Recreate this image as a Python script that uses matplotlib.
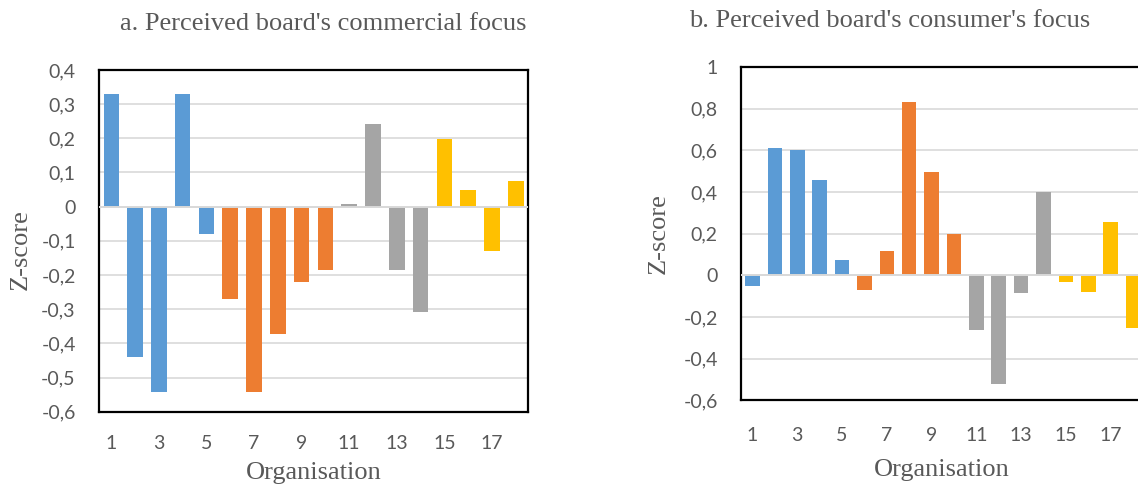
import numpy as np
import matplotlib.pyplot as plt

# Z-scores per organisation (1..18)
orgs = np.arange(1, 19)
commercial = [0.33, -0.439, -0.543, 0.329, -0.081, -0.27, -0.541, -0.373, -0.22,
              -0.184, 0.007, 0.243, -0.185, -0.308, 0.197, 0.048, -0.13, 0.075]
consumer = [-0.05, 0.613, 0.603, 0.459, 0.072, -0.069, 0.117, 0.83, 0.494,
            0.2, -0.261, -0.523, -0.083, 0.398, -0.034, -0.08, 0.254, -0.253]
# organisation groups -> colour
groups = [0] * 5 + [1] * 5 + [2] * 4 + [3] * 4
palette = ['#5B9BD5', '#ED7D31', '#A5A5A5', '#FFC000']
bar_colors = [palette[g] for g in groups]

text_grey = '#595959'
serif = 'Liberation Serif'
sans = 'Lato'

fig = plt.figure(figsize=(11.38, 4.84), dpi=100)
ax1 = fig.add_axes([0.0873, 0.1494, 0.3764, 0.706])
ax2 = fig.add_axes([0.6514, 0.1729, 0.3541, 0.6887])


def style(ax, vals, ylim, step, ypad, xpad):
    ax.bar(orgs, vals, width=0.65, color=bar_colors, zorder=2)
    ax.set_xlim(0.5, 18.5)
    ax.set_ylim(*ylim)
    ticks = np.round(np.arange(ylim[0], ylim[1] + step / 2, step), 2) + 0.0
    ax.set_yticks(ticks)
    ax.set_yticklabels([('%g' % (0 if abs(t) < 1e-9 else t)).replace('.', ',') for t in ticks])
    ax.set_xticks(orgs[::2])
    ax.set_xticklabels([str(o) for o in orgs[::2]])
    ax.tick_params(length=0, labelsize=14, labelcolor=text_grey)
    ax.tick_params(axis='y', pad=ypad)
    ax.tick_params(axis='x', pad=xpad)
    for lab in ax.get_xticklabels() + ax.get_yticklabels():
        lab.set_fontfamily(sans)
    for t in ticks[1:-1]:
        ax.axhline(t, color='#D9D9D9', lw=1.2, zorder=1)
    ax.axhline(0, color='#D9D9D9', lw=1.4, zorder=3)
    for s in ax.spines.values():
        s.set_color('black')
        s.set_linewidth(1.6)


style(ax1, commercial, (-0.6, 0.4), 0.1, 17, 17)
style(ax2, consumer, (-0.6, 1.0), 0.2, 17, 19)

lab_kw = dict(family=serif, size=19, color=text_grey)
fig.text(0.0181, 0.4835, 'Z-score', rotation=90, ha='center', va='center', **lab_kw)
fig.text(0.5791, 0.5165, 'Z-score', rotation=90, ha='center', va='center', **lab_kw)
fig.text(0.2757, 0.0, 'Organisation', ha='center', va='bottom', **lab_kw)
fig.text(0.8279, 0.006, 'Organisation', ha='center', va='bottom', **lab_kw)

fig.text(0.2838, 0.95, "a. Perceived board's commercial focus", ha='center', va='center', **lab_kw)
fig.text(0.782, 0.956, "b. Perceived board's consumer's focus", ha='center', va='center', **lab_kw)

fig.savefig('out.png', dpi=100)
